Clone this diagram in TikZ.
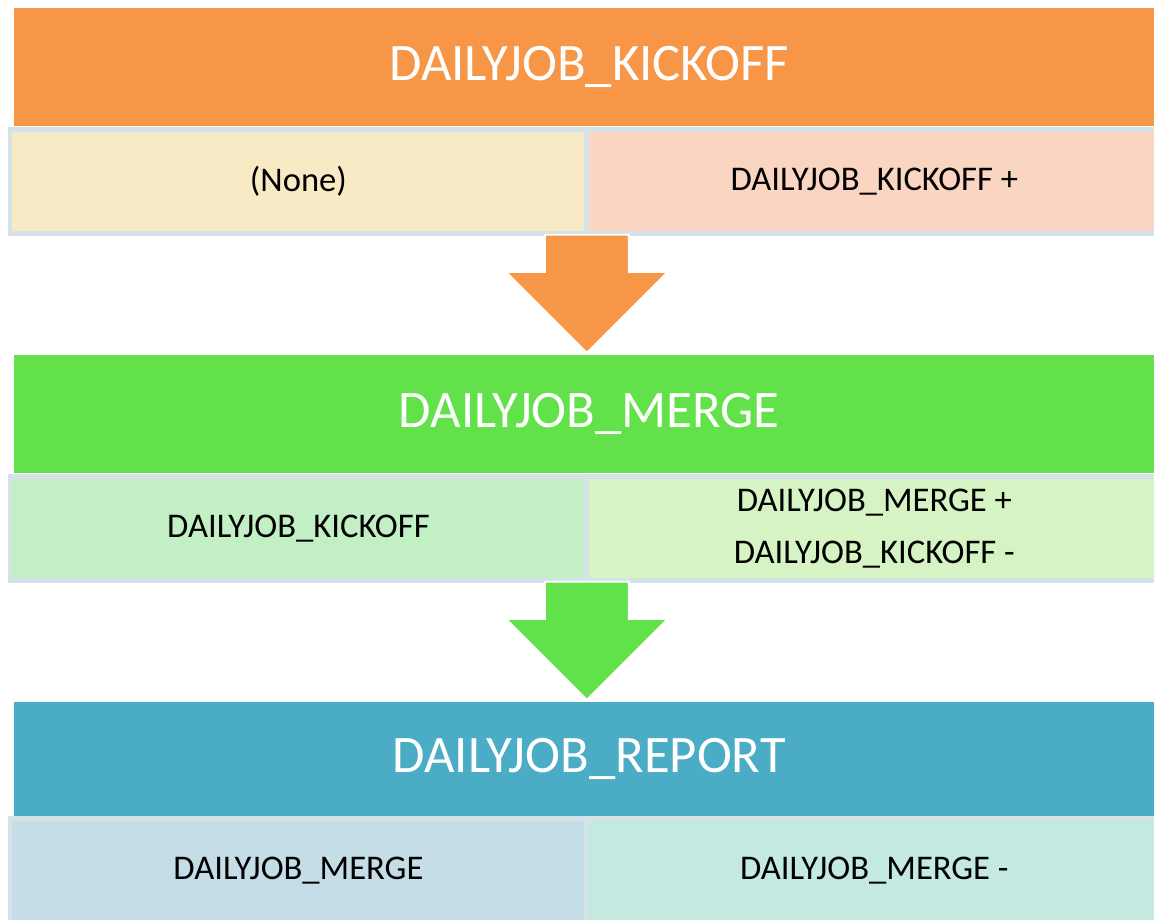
\documentclass[tikz,border=0pt]{standalone}
\usepackage{fontspec}
\setmainfont{Carlito}
\usetikzlibrary{positioning, shapes.arrows}
\definecolor{kickoffor}{RGB}{247,150,70}
\definecolor{mergegreen}{RGB}{98,225,74}
\definecolor{reportblue}{RGB}{75,172,198}
\definecolor{cellborder}{RGB}{212,227,232}

\begin{document}
\begin{tikzpicture}[
		x=0.02cm, y=-0.02cm,
		header/.style={rectangle, anchor=north west, minimum width=23cm, minimum height=2.36cm, inner sep=0pt, text=white, font=\fontsize{30}{36}\selectfont},
		cell/.style={rectangle, draw=cellborder, line width=0.1cm, outer sep=0pt, minimum height=2.1cm, inner sep=0pt, align=center, font=\fontsize{19.7}{30}\selectfont},
		leftcell/.style={cell, anchor=north west, minimum width=11.54cm},
		rightcell/.style={cell, right=0pt of #1, minimum width=11.5cm},
		flow/.style={single arrow, draw=white, line width=1pt, rotate=-90, anchor=tail, minimum height=2.36cm, minimum width=3.2cm, single arrow head extend=0.78cm, inner xsep=0pt, inner ysep=0.82cm}
	]
	\useasboundingbox (0,0) rectangle (1154,920);
	
	% Kickoff stage
	\node[header, fill=kickoffor] (kickoff) at (14,8) {DAILYJOB\_KICKOFF};
	\node[leftcell, fill={rgb,255:red,248;green,234;blue,196}] (kickoffin) at (10,129) {(None)};
	\node[rightcell=kickoffin, fill={rgb,255:red,250;green,213;blue,194}] (kickoffout) {DAILYJOB\_KICKOFF +};
	
	% Merge stage
	\node[header, fill=mergegreen] (merge) at (14,355) {DAILYJOB\_MERGE};
	\node[leftcell, fill={rgb,255:red,195;green,239;blue,196}] (mergein) at (10,476) {DAILYJOB\_KICKOFF};
	\node[rightcell=mergein, fill={rgb,255:red,214;green,243;blue,195}] (mergeout) {DAILYJOB\_MERGE +\\DAILYJOB\_KICKOFF -};
	
	% Report stage
	\node[header, fill=reportblue, minimum height=2.28cm] (report) at (14,702) {DAILYJOB\_REPORT};
	\node[leftcell, fill={rgb,255:red,196;green,221;blue,231}] (reportin) at (10,818) {DAILYJOB\_MERGE};
	\node[rightcell=reportin, fill={rgb,255:red,195;green,233;blue,225}] (reportout) {DAILYJOB\_MERGE -};
	
	% Block arrows between stages
	\node[flow, fill=kickoffor] (kickofftomerge) at (kickoffin.south east) {};
	\node[flow, fill=mergegreen] (mergetoreport) at (mergein.south east) {};
\end{tikzpicture}
\end{document}
